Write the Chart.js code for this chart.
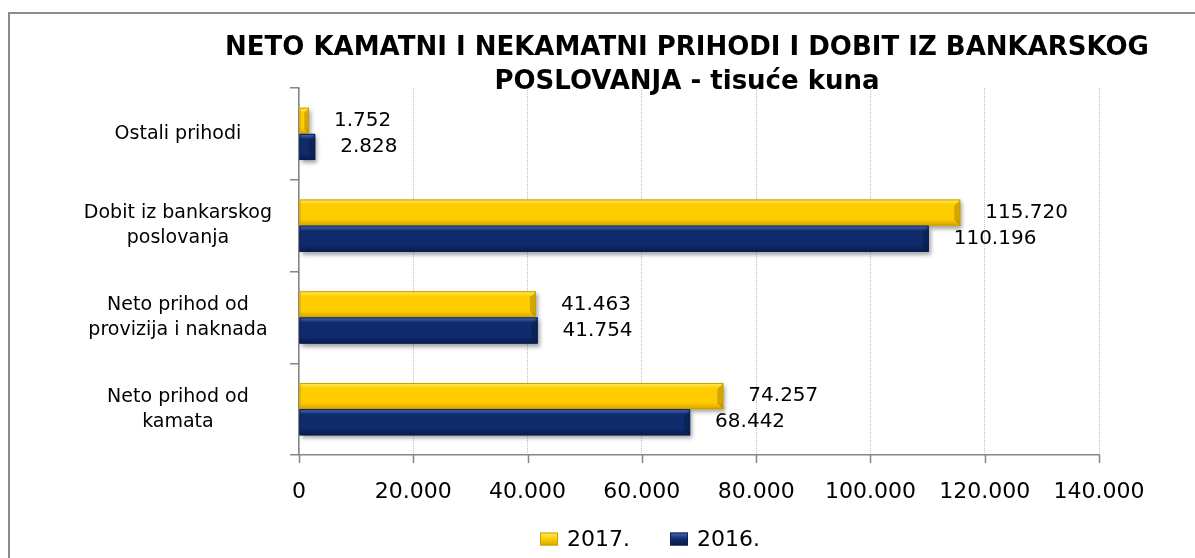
<!DOCTYPE html>
<html><head><meta charset="utf-8">
<script src="https://cdn.jsdelivr.net/npm/chart.js@4"></script>
<style>html,body{margin:0;padding:0;background:#fff;overflow:hidden}#wrap{width:1195px;height:558px;position:relative}</style>
</head><body><div id="wrap"><canvas id="c" width="1195" height="558"></canvas></div>
<script>
const categories = [['Ostali prihodi'], ['Dobit iz bankarskog', 'poslovanja'], ['Neto prihod od', 'provizija i naknada'], ['Neto prihod od', 'kamata']];
const seriesNames = ['2017.', '2016.'];
const values2017 = [1752, 115720, 41463, 74257];
const values2016 = [2828, 110196, 41754, 68442];
const xTickValues = [0, 20000, 40000, 60000, 80000, 100000, 120000, 140000];
const titleLines = ['NETO KAMATNI I NEKAMATNI PRIHODI I DOBIT IZ BANKARSKOG', 'POSLOVANJA - tisuće kuna'];

const fmt = n => String(n).replace(/\B(?=(\d{3})+(?!\d))/g, '.');
const FONT = 'DejaVu Sans';
const styles = [
  {base: '#FFCC00', top: '#FFEE66', bottom: '#D9A300', border: '#C9A000'},
  {base: '#0F2B6C', top: '#4C6DB8', bottom: '#081A48', border: '#0A1F52'}
];

const framePlugin = {
  id: 'frame',
  beforeDraw(chart) {
    const ctx = chart.ctx;
    ctx.save();
    ctx.fillStyle = '#fff';
    ctx.fillRect(0, 0, chart.width, chart.height);
    ctx.strokeStyle = '#8C8C8C';
    ctx.lineWidth = 2;
    ctx.strokeRect(9, 13, chart.width + 20, chart.height + 20);
    ctx.restore();
  }
};

const titlePlugin = {
  id: 'customTitle',
  afterDraw(chart) {
    const ctx = chart.ctx;
    ctx.save();
    ctx.font = 'bold 26px "' + FONT + '"';
    ctx.fillStyle = '#000';
    ctx.textAlign = 'center';
    ctx.textBaseline = 'middle';
    const cx = (chart.chartArea.left + chart.chartArea.right) / 2 - 12;
    titleLines.forEach((t, i) => ctx.fillText(t, cx, 48 + i * 34));
    ctx.restore();
  }
};

const shadowPlugin = {
  id: 'barShadow',
  beforeDatasetDraw(chart) {
    const ctx = chart.ctx;
    ctx.save();
    ctx.shadowColor = 'rgba(0,0,0,0.35)';
    ctx.shadowOffsetX = 2;
    ctx.shadowOffsetY = 3;
    ctx.shadowBlur = 4;
  },
  afterDatasetDraw(chart) { chart.ctx.restore(); }
};

const bevelPlugin = {
  id: 'bevel',
  afterDatasetsDraw(chart) {
    const ctx = chart.ctx;
    chart.data.datasets.forEach((ds, di) => {
      const meta = chart.getDatasetMeta(di);
      const st = styles[di];
      meta.data.forEach(el => {
        const x0 = Math.min(el.base, el.x), x1 = Math.max(el.base, el.x);
        const y0 = el.y - el.height / 2, y1 = el.y + el.height / 2;
        const g = ctx.createLinearGradient(0, y0, 0, y1);
        g.addColorStop(0, st.top);
        g.addColorStop(0.2, st.base);
        g.addColorStop(0.75, st.base);
        g.addColorStop(1, st.bottom);
        ctx.save();
        ctx.fillStyle = g;
        ctx.fillRect(x0, y0, x1 - x0, y1 - y0);
        const e = Math.min(6, (x1 - x0) / 2);
        ctx.fillStyle = 'rgba(0,0,0,0.18)';
        ctx.beginPath();
        ctx.moveTo(x1, y0); ctx.lineTo(x1, y1); ctx.lineTo(x1 - e, y1 - e); ctx.lineTo(x1 - e, y0 + e); ctx.closePath();
        ctx.fill();
        ctx.strokeStyle = st.border;
        ctx.lineWidth = 1;
        ctx.strokeRect(x0 + 0.5, y0 + 0.5, x1 - x0 - 1, y1 - y0 - 1);
        ctx.restore();
      });
    });
  }
};

const labelPlugin = {
  id: 'valueLabels',
  afterDatasetsDraw(chart) {
    const ctx = chart.ctx;
    ctx.save();
    ctx.font = '20px "' + FONT + '"';
    ctx.fillStyle = '#000';
    ctx.textAlign = 'left';
    ctx.textBaseline = 'middle';
    chart.data.datasets.forEach((ds, di) => {
      const meta = chart.getDatasetMeta(di);
      meta.data.forEach((el, i) => {
        ctx.fillText(fmt(ds.data[i]), el.x + 25, el.y);
      });
    });
    ctx.restore();
  }
};

const xTickMarks = {
  id: 'xTickMarks',
  afterDraw(chart) {
    const s = chart.scales.x, ctx = chart.ctx;
    ctx.save();
    ctx.strokeStyle = '#868686';
    ctx.lineWidth = 1.5;
    xTickValues.forEach(v => {
      const px = Math.round(s.getPixelForValue(v)) + 0.5;
      ctx.beginPath(); ctx.moveTo(px, s.top); ctx.lineTo(px, s.top + 8); ctx.stroke();
    });
    ctx.restore();
  }
};

const legendPlugin = {
  id: 'customLegend',
  afterDraw(chart) {
    const ctx = chart.ctx;
    ctx.save();
    ctx.font = '22px "' + FONT + '"';
    ctx.textBaseline = 'middle';
    const boxW = 18, boxH = 13, gapText = 9, gapItem = 40;
    const widths = chart.data.datasets.map(ds => boxW + gapText + ctx.measureText(ds.label).width);
    const total = widths.reduce((a, b) => a + b, 0) + gapItem * (widths.length - 1);
    let x = (chart.chartArea.left + chart.chartArea.right) / 2 - 49 - total / 2;
    const y = chart.height - 19;
    chart.data.datasets.forEach((ds, di) => {
      const st = styles[di];
      const g = ctx.createLinearGradient(0, y - boxH / 2, 0, y + boxH / 2);
      g.addColorStop(0, st.top); g.addColorStop(0.5, st.base); g.addColorStop(1, st.bottom);
      ctx.fillStyle = g;
      ctx.fillRect(x, y - boxH / 2, boxW, boxH);
      ctx.strokeStyle = st.border; ctx.lineWidth = 1;
      ctx.strokeRect(x + 0.5, y - boxH / 2 + 0.5, boxW - 1, boxH - 1);
      ctx.fillStyle = '#000';
      ctx.textAlign = 'left';
      ctx.fillText(ds.label, x + boxW + gapText, y + 1);
      x += widths[di] + gapItem;
    });
    ctx.restore();
  }
};

new Chart(document.getElementById('c'), {
  type: 'bar',
  data: {
    labels: categories,
    datasets: [
      {label: seriesNames[0], data: values2017, backgroundColor: styles[0].base, borderWidth: 0},
      {label: seriesNames[1], data: values2016, backgroundColor: styles[1].base, borderWidth: 0}
    ]
  },
  options: {
    indexAxis: 'y',
    responsive: false,
    animation: false,
    datasets: {bar: {categoryPercentage: 0.57, barPercentage: 1}},
    layout: {padding: {left: 0, right: 96, top: 88, bottom: 36}},
    plugins: {
      legend: {display: false},
      tooltip: {enabled: false},
      title: {display: false}
    },
    scales: {
      x: {
        min: 0, max: 140000,
        afterBuildTicks(s) { s.ticks = xTickValues.map(v => ({value: v})); },
        afterFit(s) { s.height = 67; },
        grid: {color: '#BFBFBF', drawTicks: false, lineWidth: 1},
        border: {display: true, color: '#868686', width: 1.5, dash: [1, 1]},
        ticks: {callback: v => fmt(v), color: '#000', padding: 24, font: {family: FONT, size: 22}, maxRotation: 0}
      },
      y: {
        afterFit(s) { s.width = 299; },
        grid: {display: true, drawOnChartArea: false, drawTicks: true, tickLength: 9, color: '#868686', offset: true, lineWidth: 1.5},
        border: {display: true, color: '#868686', width: 1.5},
        ticks: {color: '#000', crossAlign: 'center', padding: 18, font: {family: FONT, size: 19, lineHeight: 25 / 19}}
      }
    }
  },
  plugins: [framePlugin, shadowPlugin, bevelPlugin, labelPlugin, xTickMarks, legendPlugin, titlePlugin]
});
</script>
</body></html>
